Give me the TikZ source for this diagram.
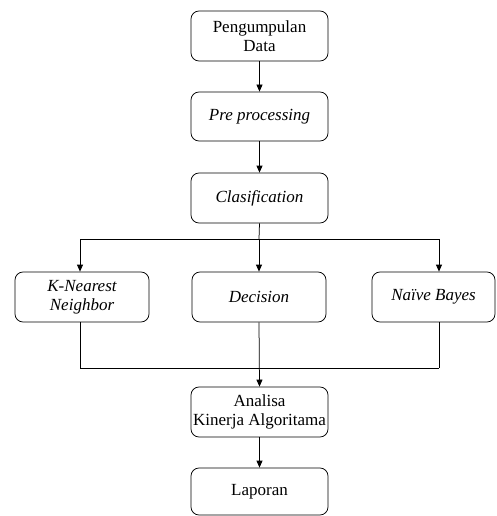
\documentclass[tikz,border=0pt]{standalone}
\usepackage{fontspec}
\setmainfont{Liberation Serif}
\usetikzlibrary{arrows.meta}
\begin{document}
\begin{tikzpicture}[x=1pt,y=-1pt,
  box/.style={draw, rounded corners=8pt, line width=0.75pt, align=center, inner sep=0pt,
    font=\fontsize{17}{19}\selectfont},
  arr/.style={-{Triangle[length=7pt,width=6pt]}, line width=0.75pt},
  ln/.style={line width=0.75pt}]
\useasboundingbox (0,0) rectangle (496,516);
\node[box, minimum width=137pt, minimum height=50pt] (pd) at (259.5,36) {Pengumpulan\\Data};
\node[box, minimum width=137pt, minimum height=49pt] (pp) at (259.5,116.5) {\itshape Pre processing};
\node[box, minimum width=137pt, minimum height=50pt] (cl) at (259.5,198) {\itshape Clasification};
\node[box, minimum width=134pt, minimum height=50pt] (knn) at (82,297) {\itshape K-Nearest\\\itshape Neighbor};
\node[box, minimum width=134pt, minimum height=50pt] (dt) at (259,297) {\itshape Decision};
\node[box, minimum width=123pt, minimum height=50pt] (nb) at (433.5,297) {\itshape Naïve Bayes};
\node[box, minimum width=137pt, minimum height=50pt] (an) at (259.5,412) {Analisa\\Kinerja Algoritama};
\node[box, minimum width=137pt, minimum height=47pt] (lp) at (259.5,491.5) {Laporan};
\coordinate (sl) at (80,239);
\coordinate (sr) at (439,239);
\coordinate (sc) at (259,239);
\coordinate (jl) at (80,368);
\coordinate (jr) at (439,368);
\coordinate (jc) at (259,368);
\draw[arr] (pd) -- (pp);
\draw[arr] (pp) -- (cl);
\draw[ln] (cl.south) -- (sc);
\draw[ln] (sl) -- (sr);
\draw[arr] (sl) -- (sl |- knn.north);
\draw[arr] (sc) -- (sc |- dt.north);
\draw[arr] (sr) -- (sr |- nb.north);
\draw[ln] (jl |- knn.south) -- (jl);
\draw[ln] (jr |- nb.south) -- (jr);
\draw[ln] (jl) -- (jr);
\draw[arr] (dt.south) -- (an.north);
\draw[arr] (an) -- (lp);
\end{tikzpicture}
\end{document}
